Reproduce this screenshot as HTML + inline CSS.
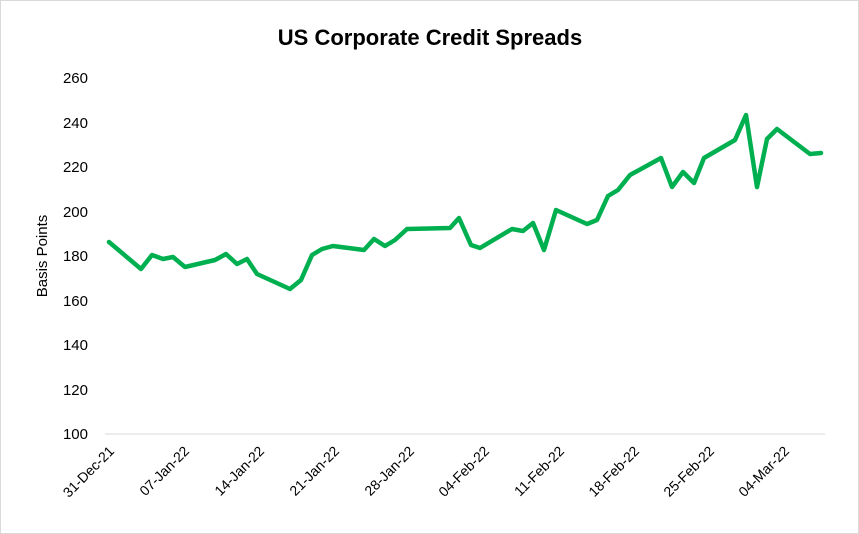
<!DOCTYPE html>
<html><head><style>body{margin:0;background:#fff}svg{display:block}</style></head><body>
<svg width="859" height="534" xmlns="http://www.w3.org/2000/svg" font-family="Liberation Sans, sans-serif">
<rect x="0.5" y="0.5" width="858" height="533" fill="#fff" stroke="#d9d9d9"/>
<text x="430" y="45" text-anchor="middle" font-size="22" font-weight="bold" fill="#000">US Corporate Credit Spreads</text>
<line x1="105" y1="434" x2="825" y2="434" stroke="#d9d9d9" stroke-width="1"/>
<g font-size="15" fill="#000" text-anchor="end">
<text x="88" y="439">100</text><text x="88" y="395">120</text><text x="88" y="350">140</text><text x="88" y="306">160</text><text x="88" y="261">180</text><text x="88" y="217">200</text><text x="88" y="172">220</text><text x="88" y="128">240</text><text x="88" y="83">260</text>
</g>
<text transform="translate(47,256) rotate(-90)" text-anchor="middle" font-size="15">Basis Points</text>
<g font-size="14" fill="#000" text-anchor="end">
<text transform="translate(115,452) rotate(-45)">31-Dec-21</text>
<text transform="translate(190,452) rotate(-45)">07-Jan-22</text>
<text transform="translate(265,452) rotate(-45)">14-Jan-22</text>
<text transform="translate(340,452) rotate(-45)">21-Jan-22</text>
<text transform="translate(415,452) rotate(-45)">28-Jan-22</text>
<text transform="translate(490,452) rotate(-45)">04-Feb-22</text>
<text transform="translate(565,452) rotate(-45)">11-Feb-22</text>
<text transform="translate(640,452) rotate(-45)">18-Feb-22</text>
<text transform="translate(715,452) rotate(-45)">25-Feb-22</text>
<text transform="translate(790,452) rotate(-45)">04-Mar-22</text>
</g>
<polyline fill="none" stroke="#00b050" stroke-width="4.5" stroke-linejoin="round" stroke-linecap="round" points="109,242 141,269 152,255 163,259 173,257 185,267 215,260 226,254 237,264 247,259 257,274 290,289 301,280 312,255 322,249 333,246 364,250 374,239 385,246 395,240 407,229 450,228 459,218 471,245 480,248 512,229 523,231 533,223 544,250 556,210 587,224 597,220 608,196 618,190 630,175 661,158 672,187 683,172 694,183 704,158 735,140 746,115 757,187 767,139 777,129 810,154 821,153"/>
</svg>
</body></html>
